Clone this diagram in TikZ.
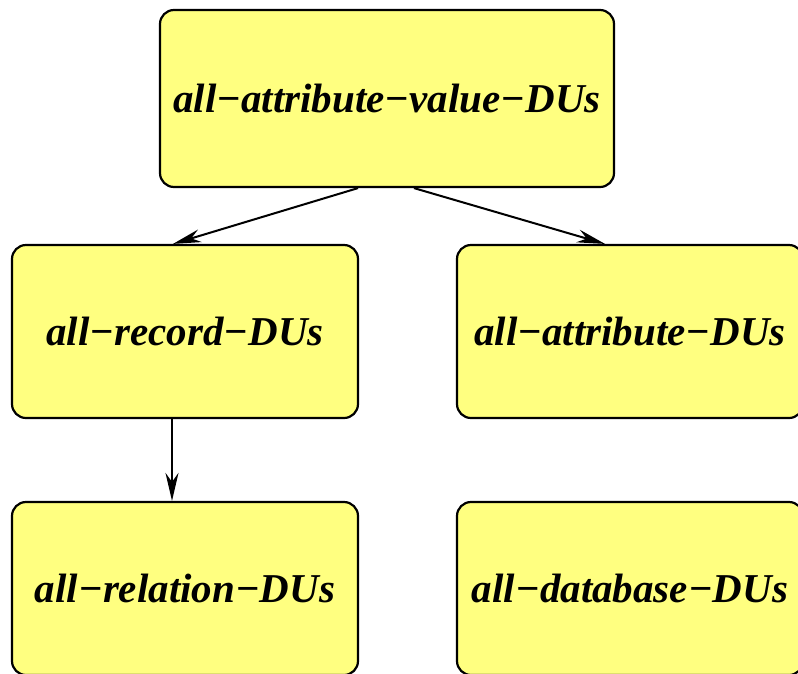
\documentclass[tikz,border=0pt]{standalone}
\usepackage{fontspec}
\setmainfont{Liberation Serif}
\usetikzlibrary{arrows.meta}
\definecolor{boxfill}{RGB}{255,255,128}
\tikzset{
  dubox/.style={draw=black, line width=2.2pt, fill=boxfill, rounded corners=14pt,
    inner sep=0pt, minimum height=#1, font=\fontsize{41}{46}\selectfont\bfseries\itshape},
  dubox/.default=173pt,
  duarrow/.style={-{Stealth[length=28pt,width=13pt,inset=9pt]}, line width=2pt}
}
\begin{document}
\begin{tikzpicture}[x=1pt,y=-1pt]
\useasboundingbox (0,0) rectangle (798,673);
\clip (0,0) rectangle (798,673);
\node[dubox=177pt, minimum width=454pt] (top) at (387,98.5) {all−attribute−value−DUs};
\node[dubox, minimum width=346pt] (ml) at (185,331.5) {all−record−DUs};
\node[dubox, minimum width=346pt] (mr) at (630,331.5) {all−attribute−DUs};
\node[dubox, minimum width=346pt] (bl) at (185,588.5) {all−relation−DUs};
\node[dubox, minimum width=346pt] (br) at (630,588.5) {all−database−DUs};
\draw[duarrow] ([xshift=-29pt]top.south) -- ([xshift=-12pt]ml.north);
\draw[duarrow] ([xshift=27pt]top.south) -- ([xshift=-25pt]mr.north);
\draw[duarrow] ([xshift=-13pt]ml.south) -- ([xshift=-13pt]bl.north);
\end{tikzpicture}
\end{document}
